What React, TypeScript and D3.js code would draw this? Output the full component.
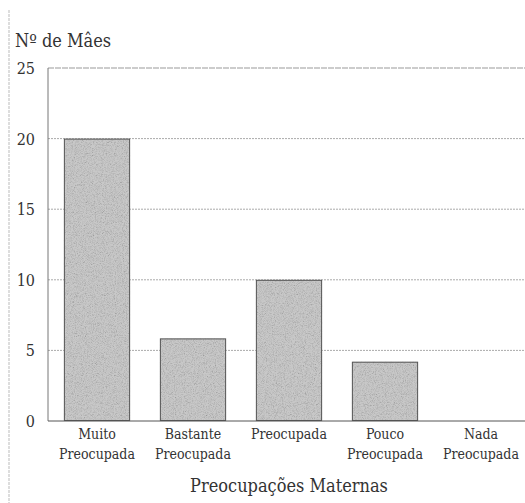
import React from "react";
import * as d3 from "d3";

const categories: string[][] = [
  ["Muito", "Preocupada"],
  ["Bastante", "Preocupada"],
  ["Preocupada"],
  ["Pouco", "Preocupada"],
  ["Nada", "Preocupada"],
];
const values: number[] = [20, 5.85, 10, 4.2, 0];
const yTicks: number[] = [0, 5, 10, 15, 20, 25];

const yTitle = "Nº de Mâes";
const xTitle = "Preocupações Maternas";

const W = 525;
const H = 503;
const margin = { top: 68, right: -3, bottom: 82, left: 48 };
const txt: React.CSSProperties = {
  fontFamily: "'DejaVu Serif', serif",
  fontStretch: "condensed",
};

const App: React.FC = () => {
  const keys = categories.map((c) => c.join(" "));

  const x = d3
    .scaleBand<string>()
    .domain(keys)
    .range([margin.left + 1, W - margin.right + 1])
    .paddingInner(0.31)
    .paddingOuter(0.155);

  const y = d3
    .scaleLinear()
    .domain([0, 25])
    .range([H - margin.bottom, margin.top]);

  const x0 = margin.left;
  const x1 = W - margin.right;

  return (
    <svg
      width={W}
      height={H}
      viewBox={`0 0 ${W} ${H}`}
      style={{ position: "absolute", left: 0, top: 0, background: "#fff" }}
    >
      <defs>
        <filter id="grain" x="0" y="0" width="100%" height="100%">
          <feTurbulence type="fractalNoise" baseFrequency="1.1" numOctaves="2" seed="3" result="noise" />
          <feColorMatrix in="noise" type="saturate" values="0" result="gray" />
          <feComponentTransfer in="gray" result="adj">
            <feFuncR type="linear" slope="1.8" intercept="-0.05" />
            <feFuncG type="linear" slope="1.8" intercept="-0.05" />
            <feFuncB type="linear" slope="1.8" intercept="-0.05" />
          </feComponentTransfer>
          <feBlend in="SourceGraphic" in2="adj" mode="multiply" result="blend" />
          <feComposite in="blend" in2="SourceGraphic" operator="in" />
        </filter>
      </defs>

      {/* scan edge on the left */}
      <line x1={9} x2={9} y1={10} y2={H} stroke="#bbb" strokeWidth={1} strokeDasharray="3 1" />

      {/* gridlines */}
      {yTicks
        .filter((t) => t > 0)
        .map((t) => (
          <line
            key={`g${t}`}
            x1={x0}
            x2={x1}
            y1={y(t)}
            y2={y(t)}
            stroke={t === 25 ? "#999" : "#aaa"}
            strokeWidth={1}
            strokeDasharray={t === 25 ? "6 1" : "2 1"}
          />
        ))}

      {/* bars */}
      {values.map((v, i) =>
        v > 0 ? (
          <g key={keys[i]}>
            <rect
              x={x(keys[i])!}
              y={y(v)}
              width={x.bandwidth()}
              height={y(0) - y(v)}
              fill="#c8c8c8"
              filter="url(#grain)"
            />
            <rect
              x={x(keys[i])! + 0.5}
              y={y(v) + 0.5}
              width={x.bandwidth() - 1}
              height={y(0) - y(v) - 1}
              fill="none"
              stroke="#555"
              strokeWidth={1}
            />
          </g>
        ) : null
      )}

      {/* axes */}
      <line x1={x0} x2={x0} y1={y(25)} y2={y(0)} stroke="#777" strokeWidth={1} />
      <line x1={x0} x2={x1} y1={y(0)} y2={y(0)} stroke="#555" strokeWidth={1} />

      {/* y tick labels */}
      {yTicks.map((t) => (
        <text
          key={`t${t}`}
          x={35}
          y={y(t) + 6}
          textAnchor="end"
          fontSize={16}
          fill="#333"
          style={txt}
        >
          {t}
        </text>
      ))}

      {/* category labels */}
      {categories.map((lines, i) => {
        const cx = x(keys[i])! + x.bandwidth() / 2;
        const two = lines.length === 2;
        return (
          <text key={`c${i}`} textAnchor="middle" fontSize={14} fill="#333" style={txt}>
            {lines.map((ln, j) => (
              <tspan key={j} x={cx} y={y(0) + 18 + (two ? j * 20 : 0)}>
                {ln}
              </tspan>
            ))}
          </text>
        );
      })}

      {/* titles */}
      <text x={15} y={47} fontSize={18} fill="#333" style={txt}>
        {yTitle}
      </text>
      <text x={289} y={492} textAnchor="middle" fontSize={18} fill="#333" style={txt}>
        {xTitle}
      </text>
    </svg>
  );
};

export default App;
